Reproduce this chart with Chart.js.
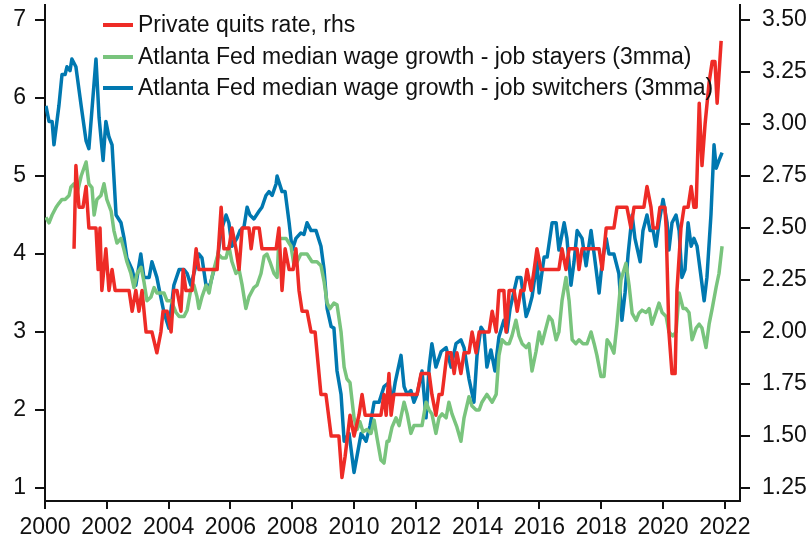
<!DOCTYPE html>
<html>
<head>
<meta charset="utf-8">
<script src="https://cdn.jsdelivr.net/npm/chart.js@4.4.1/dist/chart.umd.min.js"></script>
<style>
  html, body { margin: 0; padding: 0; background: #fff; }
  canvas { display: block; }
</style>
</head>
<body>
<canvas id="chart" width="810" height="541"></canvas>
<script>
// Private quits rate (rhs)
var quitsDates = [2000.94, 2001.0, 2001.1, 2001.17, 2001.23, 2001.33, 2001.42, 2001.65, 2001.72, 2001.78, 2001.84, 2001.97,
  2002.07, 2002.17, 2002.27, 2002.56, 2002.72, 2002.82, 2002.94, 2003.04, 2003.14, 2003.27, 2003.46, 2003.62, 2003.75,
  2003.82, 2003.95, 2004.08, 2004.17, 2004.27, 2004.4, 2004.47, 2004.56, 2004.76, 2004.89, 2004.98, 2005.31, 2005.57,
  2005.7, 2005.79, 2005.95, 2006.05, 2006.18, 2006.28, 2006.38, 2006.6, 2006.67, 2006.76, 2006.93, 2007.02, 2007.31,
  2007.48, 2007.57, 2007.67, 2007.77, 2007.9, 2008.03, 2008.12, 2008.22, 2008.32, 2008.48, 2008.61, 2008.74, 2008.93,
  2009.09, 2009.26, 2009.51, 2009.61, 2009.71, 2009.87, 2010.0, 2010.16, 2010.26, 2010.36, 2010.87, 2010.97, 2011.04,
  2011.13, 2011.2, 2011.29, 2012.04, 2012.17, 2012.43, 2012.52, 2012.65, 2012.75, 2012.85, 2013.01, 2013.14, 2013.24,
  2013.33, 2013.46, 2013.56, 2013.72, 2013.82, 2013.95, 2014.05, 2014.37, 2014.47, 2014.6, 2014.69, 2014.85, 2014.92,
  2015.02, 2015.18, 2015.28, 2015.4, 2015.5, 2015.6, 2015.73, 2015.83, 2015.92, 2016.05, 2016.63, 2016.73, 2016.86,
  2016.96, 2017.22, 2017.28, 2017.38, 2017.93, 2018.03, 2018.16, 2018.41, 2018.51, 2018.83, 2018.96, 2019.06, 2019.38,
  2019.48, 2019.61, 2019.68, 2019.81, 2019.9, 2020.06, 2020.1, 2020.19, 2020.29, 2020.39, 2020.45, 2020.58, 2020.68,
  2020.81, 2020.91, 2021.0, 2021.07, 2021.17, 2021.26, 2021.36, 2021.49, 2021.59, 2021.68, 2021.75, 2021.88];
var quitsRate = [2.4, 2.8, 2.6, 2.6, 2.6, 2.7, 2.5, 2.5, 2.3, 2.5, 2.2, 2.4,
  2.2, 2.3, 2.2, 2.2, 2.2, 2.1, 2.2, 2.1, 2.2, 2.0, 2.0, 1.9, 2.0,
  2.1, 2.1, 2.0, 2.2, 2.2, 2.1, 2.3, 2.2, 2.2, 2.4, 2.3, 2.3, 2.3,
  2.6, 2.4, 2.4, 2.5, 2.4, 2.3, 2.5, 2.5, 2.4, 2.5, 2.5, 2.4, 2.4,
  2.4, 2.5, 2.2, 2.4, 2.3, 2.3, 2.4, 2.2, 2.1, 2.1, 2.0, 2.0, 1.7,
  1.7, 1.5, 1.5, 1.3, 1.4, 1.6, 1.5, 1.6, 1.7, 1.6, 1.6, 1.7, 1.6,
  1.8, 1.6, 1.7, 1.7, 1.8, 1.8, 1.7, 1.6, 1.7, 1.7, 1.9, 1.9, 1.8,
  1.9, 1.8, 1.9, 1.9, 2.0, 1.9, 2.0, 2.0, 2.1, 2.0, 2.2, 2.2, 2.0,
  2.2, 2.2, 2.1, 2.2, 2.2, 2.3, 2.2, 2.3, 2.4, 2.3, 2.3, 2.4, 2.3,
  2.4, 2.4, 2.3, 2.4, 2.4, 2.3, 2.5, 2.5, 2.6, 2.6, 2.5, 2.6, 2.6,
  2.7, 2.6, 2.5, 2.5, 2.6, 2.6, 2.5, 2.0, 1.8, 1.8, 2.2, 2.5, 2.6,
  2.6, 2.7, 2.6, 2.6, 3.1, 2.8, 3.0, 3.2, 3.3, 3.3, 3.1, 3.4];

// Atlanta Fed median wage growth, job stayers (3mma)
var stayersDates = [2000.03, 2000.13, 2000.23, 2000.36, 2000.45, 2000.55, 2000.65, 2000.78, 2000.84, 2000.94, 2001.04,
  2001.17, 2001.33, 2001.42, 2001.52, 2001.59, 2001.68, 2001.81, 2001.91, 2002.0, 2002.14, 2002.23, 2002.33, 2002.46,
  2002.56, 2002.65, 2002.78, 2002.88, 2002.98, 2003.11, 2003.2, 2003.3, 2003.43, 2003.53, 2003.62, 2003.75, 2003.85,
  2003.95, 2004.08, 2004.24, 2004.34, 2004.5, 2004.6, 2004.72, 2004.82, 2004.92, 2004.98, 2005.08, 2005.21, 2005.31,
  2005.4, 2005.53, 2005.6, 2005.73, 2005.86, 2005.95, 2006.05, 2006.18, 2006.28, 2006.38, 2006.5, 2006.6, 2006.76,
  2006.86, 2006.99, 2007.09, 2007.18, 2007.28, 2007.41, 2007.51, 2007.57, 2007.7, 2007.8, 2007.96, 2008.06, 2008.16,
  2008.28, 2008.48, 2008.64, 2008.8, 2008.93, 2009.03, 2009.13, 2009.22, 2009.35, 2009.45, 2009.58, 2009.68, 2009.77,
  2009.87, 2010.0, 2010.1, 2010.19, 2010.29, 2010.42, 2010.55, 2010.65, 2010.74, 2010.87, 2010.97, 2011.07, 2011.13,
  2011.23, 2011.36, 2011.46, 2011.62, 2011.72, 2011.84, 2011.94, 2012.04, 2012.2, 2012.33, 2012.43, 2012.52, 2012.65,
  2012.75, 2012.85, 2012.98, 2013.07, 2013.17, 2013.33, 2013.46, 2013.56, 2013.72, 2013.82, 2013.95, 2014.05, 2014.14,
  2014.3, 2014.47, 2014.6, 2014.69, 2014.79, 2014.92, 2015.02, 2015.11, 2015.24, 2015.34, 2015.44, 2015.57, 2015.66,
  2015.76, 2015.89, 2015.99, 2016.08, 2016.21, 2016.31, 2016.41, 2016.54, 2016.63, 2016.73, 2016.86, 2016.96, 2017.06,
  2017.18, 2017.28, 2017.41, 2017.54, 2017.67, 2017.77, 2017.86, 2017.99, 2018.09, 2018.19, 2018.28, 2018.41, 2018.51,
  2018.64, 2018.8, 2018.9, 2019.0, 2019.13, 2019.22, 2019.32, 2019.45, 2019.55, 2019.64, 2019.77, 2019.87, 2019.97,
  2020.1, 2020.19, 2020.32, 2020.42, 2020.52, 2020.65, 2020.74, 2020.84, 2020.94, 2021.07, 2021.17, 2021.26, 2021.39,
  2021.49, 2021.59, 2021.72, 2021.81, 2021.91];
var stayersGrowth = [4.47, 4.4, 4.5, 4.6, 4.65, 4.7, 4.7, 4.75, 4.86, 4.9, 4.78,
  5.0, 5.18, 4.9, 4.85, 4.5, 4.7, 4.75, 4.9, 4.7, 4.55, 4.3, 4.14, 4.2,
  4.05, 3.9, 3.75, 3.57, 3.75, 3.83, 3.65, 3.4, 3.45, 3.57, 3.5, 3.5, 3.5,
  3.4, 3.4, 3.25, 3.2, 3.2, 3.28, 3.55, 3.6, 3.45, 3.3, 3.45, 3.6, 3.5,
  3.7, 3.9, 4.0, 3.95, 3.95, 4.1, 3.9, 3.75, 3.8, 3.6, 3.3, 3.45, 3.57,
  3.6, 3.75, 3.97, 4.0, 3.9, 3.75, 3.7, 4.2, 4.2, 4.2, 4.1, 3.85, 3.9,
  4.0, 4.0, 3.9, 3.9, 3.85, 3.65, 3.37, 3.3, 3.37, 3.35, 3.0, 2.55, 2.4,
  2.35, 1.9, 1.75, 1.85, 1.72, 1.75, 1.7, 1.87, 1.65, 1.36, 1.32, 1.6, 1.6,
  1.78, 1.9, 1.8, 2.1, 1.95, 1.7, 1.8, 1.8, 1.8, 2.1, 2.0, 1.95, 1.7,
  1.9, 1.95, 1.9, 2.1, 1.95, 1.78, 1.6, 1.9, 2.17, 2.05, 2.0, 2.0, 2.1,
  2.2, 2.1, 2.2, 2.7, 2.9, 2.85, 2.85, 2.95, 3.15, 2.95, 2.85, 2.8, 2.85,
  2.5, 2.75, 3.0, 2.85, 3.05, 3.2, 3.15, 2.9, 3.0, 3.4, 3.7, 3.4, 2.9,
  2.85, 2.9, 2.85, 2.85, 3.0, 2.85, 2.7, 2.43, 2.43, 2.9, 2.85, 2.73, 3.1,
  3.67, 3.88, 3.6, 3.24, 3.15, 3.24, 3.28, 3.25, 3.3, 3.1, 3.25, 3.37, 3.25,
  3.2, 3.0, 2.95, 3.0, 3.5, 3.3, 3.3, 3.25, 2.9, 3.05, 3.1, 3.05, 2.8,
  3.1, 3.3, 3.58, 3.75, 4.1];

// Atlanta Fed median wage growth, job switchers (3mma)
var switchersDates = [2000.03, 2000.13, 2000.23, 2000.29, 2000.45, 2000.55, 2000.65, 2000.71, 2000.81, 2000.87, 2001.0,
  2001.17, 2001.33, 2001.42, 2001.65, 2001.75, 2001.88, 2001.97, 2002.07, 2002.17, 2002.3, 2002.46, 2002.56, 2002.65,
  2002.82, 2002.94, 2003.1, 2003.2, 2003.37, 2003.46, 2003.62, 2003.72, 2003.85, 2004.01, 2004.17, 2004.34, 2004.5,
  2004.6, 2004.72, 2004.85, 2004.98, 2005.08, 2005.21, 2005.34, 2005.47, 2005.57, 2005.7, 2005.86, 2005.95, 2006.05,
  2006.21, 2006.31, 2006.44, 2006.54, 2006.63, 2006.76, 2006.93, 2007.02, 2007.15, 2007.25, 2007.35, 2007.48, 2007.51,
  2007.67, 2007.77, 2007.9, 2008.0, 2008.12, 2008.28, 2008.38, 2008.48, 2008.61, 2008.77, 2008.93, 2009.03, 2009.13,
  2009.26, 2009.35, 2009.45, 2009.58, 2009.68, 2009.84, 2010.0, 2010.23, 2010.39, 2010.52, 2010.65, 2010.81, 2010.97,
  2011.13, 2011.23, 2011.33, 2011.52, 2011.62, 2011.72, 2011.84, 2011.94, 2012.04, 2012.2, 2012.33, 2012.43, 2012.52,
  2012.65, 2012.82, 2012.98, 2013.14, 2013.3, 2013.46, 2013.56, 2013.72, 2013.88, 2013.98, 2014.11, 2014.21, 2014.3,
  2014.43, 2014.56, 2014.69, 2014.85, 2014.95, 2015.05, 2015.28, 2015.4, 2015.57, 2015.66, 2015.76, 2015.92, 2015.99,
  2016.15, 2016.25, 2016.41, 2016.54, 2016.63, 2016.8, 2016.89, 2017.02, 2017.12, 2017.22, 2017.38, 2017.51, 2017.67,
  2017.77, 2017.93, 2018.03, 2018.16, 2018.25, 2018.41, 2018.57, 2018.67, 2018.77, 2018.87, 2019.0, 2019.09, 2019.26,
  2019.35, 2019.48, 2019.58, 2019.68, 2019.77, 2019.87, 2020.0, 2020.13, 2020.19, 2020.29, 2020.42, 2020.52, 2020.61,
  2020.71, 2020.81, 2020.91, 2021.0, 2021.1, 2021.33, 2021.42, 2021.55, 2021.65, 2021.72, 2021.81, 2021.91];
var switchersGrowth = [5.9, 5.7, 5.7, 5.4, 5.9, 6.3, 6.3, 6.4, 6.35, 6.5, 6.4,
  5.9, 5.45, 5.35, 6.5, 5.75, 5.2, 5.7, 5.5, 5.4, 4.5, 4.4, 4.2, 3.95,
  3.8, 3.6, 4.0, 3.7, 3.7, 3.9, 3.7, 3.5, 3.25, 3.05, 3.6, 3.8, 3.8,
  3.75, 3.6, 3.8, 4.0, 3.95, 3.6, 3.6, 3.8, 3.9, 4.3, 4.5, 4.4, 4.1,
  4.2, 4.3, 4.35, 4.6, 4.5, 4.45, 4.55, 4.6, 4.75, 4.8, 4.75, 4.9, 5.0,
  4.8, 4.8, 4.4, 4.05, 4.2, 4.27, 4.25, 4.4, 4.3, 4.3, 4.1, 3.8, 3.3,
  3.07, 3.05, 2.5, 2.2, 1.6, 1.7, 1.2, 1.7, 1.6, 1.8, 2.1, 2.1, 2.3,
  2.35, 2.1, 2.35, 2.7, 2.3, 2.2, 2.25, 2.1, 2.2, 2.5, 1.9, 2.55, 2.85,
  2.55, 2.75, 2.8, 2.55, 2.85, 2.9, 2.8, 2.4, 2.1, 2.7, 3.06, 3.0, 2.55,
  2.77, 2.5, 2.94, 3.15, 3.0, 3.3, 3.7, 3.7, 3.2, 3.3, 3.45, 3.9, 3.5,
  3.96, 3.96, 4.4, 4.4, 4.05, 4.4, 4.2, 3.6, 3.9, 4.3, 4.2, 3.85, 4.3,
  4.0, 3.5, 3.9, 4.2, 4.0, 4.0, 3.75, 3.15, 3.5, 4.0, 4.5, 4.2, 3.9,
  4.3, 4.5, 4.3, 4.3, 4.1, 4.4, 4.7, 4.4, 4.05, 4.4, 4.5, 4.3, 3.7,
  3.8, 4.4, 4.1, 4.2, 4.1, 3.4, 3.7, 4.5, 5.4, 5.1, 5.2, 5.3];

var yearTicks = [2000, 2002, 2004, 2006, 2008, 2010, 2012, 2014, 2016, 2018, 2020, 2022];
var leftTicks = [1, 2, 3, 4, 5, 6, 7];
var rightTicks = [1.25, 1.5, 1.75, 2.0, 2.25, 2.5, 2.75, 3.0, 3.25, 3.5];

var labels = [
  'Private quits rate, rhs',
  'Atlanta Fed median wage growth - job stayers (3mma)',
  'Atlanta Fed median wage growth - job switchers (3mma)'
];
var colors = ['#EE2B26', '#79C47D', '#0078B0'];

function pairs(xs, ys) {
  return xs.map(function (x, i) { return { x: x, y: ys[i] }; });
}

var tickFont = { family: '"Liberation Sans", Arial, sans-serif', size: 23 };

// legend sits inside the plot, top left
var legendInside = {
  id: 'legendInside',
  afterDraw: function (chart) {
    var ctx = chart.ctx;
    var rows = [25, 57, 88];
    ctx.save();
    ctx.font = '23px "Liberation Sans", Arial, sans-serif';
    ctx.textBaseline = 'middle';
    ctx.fillStyle = '#111';
    chart.data.datasets.forEach(function (ds, i) {
      ctx.strokeStyle = ds.borderColor;
      ctx.lineWidth = 4;
      ctx.beginPath();
      ctx.moveTo(103, rows[i]);
      ctx.lineTo(133, rows[i]);
      ctx.stroke();
      ctx.fillText(ds.label, 138, rows[i] + 1);
    });
    ctx.restore();
  }
};

function setTicks(list) {
  return function (scale) {
    scale.ticks = list.map(function (v) { return { value: v }; });
  };
}

function fixSize(w, h) {
  return function (s) {
    if (w) s.width = w;
    if (h) s.height = h;
    s.paddingTop = 0;
    s.paddingBottom = 0;
    s.paddingLeft = 0;
    s.paddingRight = 0;
  };
}

new Chart(document.getElementById('chart').getContext('2d'), {
  type: 'line',
  data: {
    datasets: [
      { label: labels[0], data: pairs(quitsDates, quitsRate), yAxisID: 'yR',
        borderColor: colors[0], backgroundColor: colors[0], borderWidth: 3.5, pointRadius: 0, tension: 0, borderJoinStyle: 'round' },
      { label: labels[1], data: pairs(stayersDates, stayersGrowth), yAxisID: 'yL',
        borderColor: colors[1], backgroundColor: colors[1], borderWidth: 3.5, pointRadius: 0, tension: 0, borderJoinStyle: 'round' },
      { label: labels[2], data: pairs(switchersDates, switchersGrowth), yAxisID: 'yL',
        borderColor: colors[2], backgroundColor: colors[2], borderWidth: 3.5, pointRadius: 0, tension: 0, borderJoinStyle: 'round' }
    ]
  },
  options: {
    responsive: false,
    animation: false,
    devicePixelRatio: 1,
    layout: { padding: { top: 5, left: 0, right: 0, bottom: 0 } },
    plugins: { legend: { display: false }, tooltip: { enabled: false } },
    scales: {
      x: {
        type: 'linear', min: 2000, max: 2022.49,
        afterBuildTicks: setTicks(yearTicks),
        afterFit: fixSize(0, 40),
        ticks: { font: tickFont, color: '#111', padding: 5, maxRotation: 0, autoSkip: false,
          callback: function (v) { return String(v); } },
        grid: { drawOnChartArea: false, color: '#111', lineWidth: 2, tickLength: 8 },
        border: { color: '#111', width: 2 }
      },
      yL: {
        position: 'left', min: 1 - 13 / 78, max: 7 + 15 / 78,
        afterBuildTicks: setTicks(leftTicks),
        afterFit: fixSize(45, 0),
        ticks: { font: tickFont, color: '#111', padding: 9, callback: function (v) { return String(v); } },
        grid: { drawOnChartArea: false, color: '#111', lineWidth: 2, tickLength: 10 },
        border: { color: '#111', width: 2 }
      },
      yR: {
        position: 'right', min: 1.25 - 13 / 208, max: 3.5 + 15 / 208,
        afterBuildTicks: setTicks(rightTicks),
        afterFit: fixSize(70, 0),
        ticks: { font: tickFont, color: '#111', padding: 12, callback: function (v) { return v.toFixed(2); } },
        grid: { drawOnChartArea: false, color: '#111', lineWidth: 2, tickLength: 10 },
        border: { color: '#111', width: 2 }
      }
    }
  },
  plugins: [legendInside]
});
</script>
</body>
</html>
